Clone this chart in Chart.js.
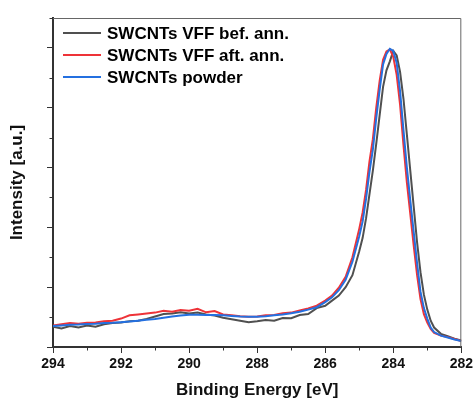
<!DOCTYPE html>
<html>
<head>
<meta charset="utf-8">
<script src="https://cdn.jsdelivr.net/npm/chart.js@4.4.1/dist/chart.umd.min.js"></script>
<style>
  html, body { margin: 0; padding: 0; background: #fff; }
  canvas { display: block; }
</style>
</head>
<body>
<canvas id="chart-xps" width="476" height="401"></canvas>
<script>
// binding energy grid [eV]
var energy = [294, 293.75, 293.5, 293.25, 293, 292.75, 292.5, 292.25, 292, 291.75,
  291.5, 291.25, 291, 290.75, 290.5, 290.25, 290, 289.75, 289.5, 289.25,
  289, 288.75, 288.5, 288.25, 288, 287.75, 287.5, 287.25, 287, 286.75,
  286.5, 286.25, 286, 285.8, 285.6, 285.4, 285.2, 285.0, 284.9, 284.8,
  284.7, 284.6, 284.5, 284.4, 284.3, 284.2, 284.1, 284.0, 283.9, 283.8,
  283.7, 283.6, 283.5, 283.4, 283.3, 283.2, 283.1, 283.0, 282.9, 282.8,
  282.6, 282.4, 282.2, 282.0];

// intensities [a.u.]
var vffBefore = [0.68, 0.62, 0.70, 0.65, 0.72, 0.68, 0.76, 0.80, 0.82, 0.86,
  0.88, 0.94, 1.02, 1.10, 1.12, 1.16, 1.12, 1.15, 1.09, 1.05,
  0.98, 0.93, 0.88, 0.83, 0.86, 0.90, 0.88, 0.97, 0.96, 1.07,
  1.10, 1.30, 1.38, 1.55, 1.72, 2.00, 2.40, 3.20, 3.65, 4.30,
  5.10, 5.90, 6.80, 7.75, 8.70, 9.25, 9.55, 9.90, 9.75, 9.20,
  8.30, 7.10, 5.90, 4.70, 3.50, 2.50, 1.75, 1.25, 0.88, 0.65,
  0.44, 0.36, 0.28, 0.22];

var vffAfter = [0.72, 0.76, 0.80, 0.78, 0.81, 0.82, 0.86, 0.88, 0.95, 1.06,
  1.09, 1.12, 1.15, 1.21, 1.18, 1.24, 1.21, 1.28, 1.16, 1.20,
  1.09, 1.06, 1.03, 1.01, 1.02, 1.06, 1.07, 1.13, 1.15, 1.22,
  1.29, 1.38, 1.55, 1.72, 1.98, 2.35, 3.00, 3.95, 4.50, 5.25,
  6.20, 6.95, 8.00, 8.90, 9.60, 9.88, 9.95, 9.70, 9.10, 8.10,
  6.75, 5.50, 4.45, 3.40, 2.40, 1.60, 1.10, 0.82, 0.60, 0.47,
  0.38, 0.33, 0.27, 0.20];

var powder = [0.70, 0.72, 0.74, 0.75, 0.77, 0.78, 0.80, 0.81, 0.83, 0.85,
  0.88, 0.91, 0.94, 0.98, 1.02, 1.05, 1.08, 1.08, 1.07, 1.07,
  1.06, 1.04, 1.02, 1.01, 1.01, 1.03, 1.06, 1.09, 1.13, 1.18,
  1.25, 1.33, 1.50, 1.66, 1.90, 2.25, 2.85, 3.70, 4.20, 4.95,
  5.85, 6.60, 7.65, 8.60, 9.45, 9.80, 9.97, 9.90, 9.50, 8.55,
  7.25, 6.00, 4.90, 3.85, 2.80, 1.85, 1.30, 0.95, 0.65, 0.50,
  0.38, 0.32, 0.25, 0.20];

var seriesLabels = ['SWCNTs VFF bef. ann.', 'SWCNTs VFF aft. ann.', 'SWCNTs powder'];
var seriesColors = ['#505050', '#ee3338', '#2470e0'];

var FONT = '"Liberation Sans", Arial, sans-serif';

function points(values) {
  return energy.map(function(e, i) { return { x: e, y: values[i] }; });
}

// minor ticks, top/right frame and the legend inside the plot
var extras = {
  id: 'extras',
  afterDraw: function(chart) {
    var ctx = chart.ctx;
    var area = chart.chartArea;
    var xs = chart.scales.x;
    var ys = chart.scales.y;
    var v, p;

    ctx.save();
    ctx.strokeStyle = '#333';
    ctx.lineWidth = 1;
    ctx.beginPath();
    for (v = 283; v < 294; v += 2) {
      p = Math.round(xs.getPixelForValue(v)) + 0.5;
      ctx.moveTo(p, area.bottom);
      ctx.lineTo(p, area.bottom + 3.5);
    }
    for (v = 1; v <= 11; v += 2) {
      p = Math.round(ys.getPixelForValue(v)) + 0.5;
      ctx.moveTo(area.left, p);
      ctx.lineTo(area.left - 3.5, p);
    }
    ctx.stroke();

    ctx.strokeStyle = '#666';
    ctx.beginPath();
    ctx.moveTo(area.left, area.top + 0.5);
    ctx.lineTo(area.right - 0.5, area.top + 0.5);
    ctx.lineTo(area.right - 0.5, area.bottom);
    ctx.stroke();

    ctx.font = 'bold 17px ' + FONT;
    ctx.textBaseline = 'middle';
    ctx.textAlign = 'left';
    ctx.lineWidth = 2;
    chart.data.datasets.forEach(function(ds, i) {
      var y = area.top + 15 + i * 22;
      ctx.strokeStyle = ds.borderColor;
      ctx.beginPath();
      ctx.moveTo(area.left + 10, y);
      ctx.lineTo(area.left + 48, y);
      ctx.stroke();
      ctx.fillStyle = '#000';
      ctx.fillText(ds.label, area.left + 54, y + 1);
    });
    ctx.restore();
  }
};

new Chart(document.getElementById('chart-xps'), {
  type: 'line',
  data: {
    datasets: [
      { label: seriesLabels[0], data: points(vffBefore), borderColor: seriesColors[0], order: 3 },
      { label: seriesLabels[1], data: points(vffAfter), borderColor: seriesColors[1], order: 2 },
      { label: seriesLabels[2], data: points(powder), borderColor: seriesColors[2], order: 1 }
    ]
  },
  options: {
    responsive: false,
    animation: false,
    devicePixelRatio: 1,
    layout: { padding: { top: 18, right: 12, left: 0, bottom: 0 } },
    elements: {
      line: { borderWidth: 2, tension: 0, fill: false },
      point: { radius: 0 }
    },
    plugins: {
      legend: { display: false },
      tooltip: { enabled: false }
    },
    scales: {
      x: {
        type: 'linear',
        reverse: true,
        min: 282,
        max: 294,
        ticks: { stepSize: 2, color: '#111', padding: 3, font: { family: FONT, size: 14, weight: 'bold' } },
        grid: { drawOnChartArea: false, tickLength: 6, tickColor: '#333', tickWidth: 1 },
        border: { color: '#333', width: 2 },
        title: {
          display: true,
          text: 'Binding Energy [eV]',
          color: '#111',
          font: { family: FONT, size: 17, weight: 'bold' },
          padding: { top: 0, bottom: 0 }
        },
        afterFit: function(scale) { scale.height = 54; }
      },
      y: {
        min: 0,
        max: 11,
        ticks: { display: false, stepSize: 2 },
        afterBuildTicks: function(scale) {
          scale.ticks = scale.ticks.filter(function(t) { return t.value % 2 === 0; });
        },
        grid: { drawOnChartArea: false, tickLength: 6, tickColor: '#333', tickWidth: 1 },
        border: { color: '#333', width: 2 },
        title: {
          display: true,
          text: 'Intensity [a.u.]',
          color: '#111',
          font: { family: FONT, size: 17, weight: 'bold' },
          padding: { top: 7, bottom: 0 }
        },
        afterFit: function(scale) { scale.width = 53; }
      }
    }
  },
  plugins: [extras]
});
</script>
</body>
</html>
